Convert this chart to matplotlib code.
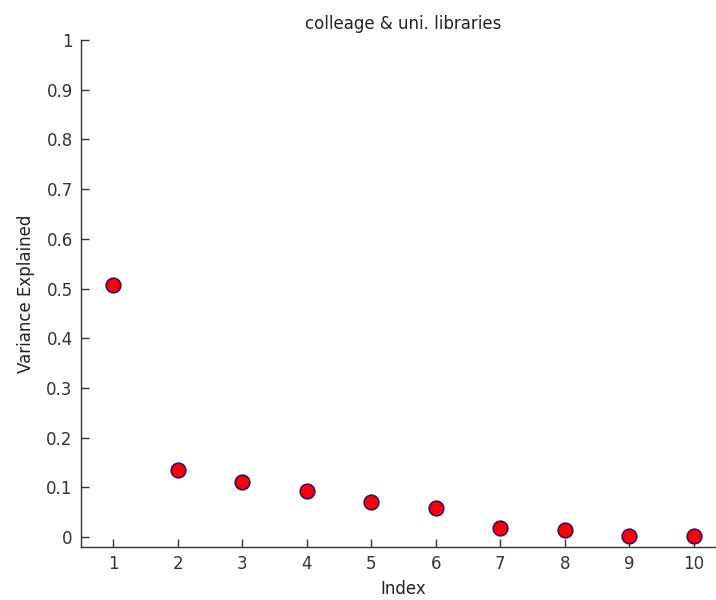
import matplotlib
matplotlib.use("Agg")
import matplotlib.pyplot as plt

index = [1, 2, 3, 4, 5, 6, 7, 8, 9, 10]
variance = [0.508, 0.134, 0.111, 0.093, 0.070, 0.058, 0.018, 0.015, 0.003, 0.003]
yticks = [0, 0.1, 0.2, 0.3, 0.4, 0.5, 0.6, 0.7, 0.8, 0.9, 1]
ytick_labels = ["0", "0.1", "0.2", "0.3", "0.4", "0.5", "0.6", "0.7", "0.8", "0.9", "1"]

plt.rcParams['font.family'] = ['DejaVu Sans']

fig = plt.figure(figsize=(7.16, 6.0), dpi=100)
ax = fig.add_axes([81/716, 1 - 547/600, 645/716, (547 - 40)/600])

ax.plot(index, variance, linestyle='none', marker='o', markersize=10.5,
        markerfacecolor='#ff0000', markeredgecolor='#3a0a5e', markeredgewidth=1.2,
        clip_on=False, zorder=3)

ax.set_xlim(0.5, 10.5)
ax.set_ylim(-0.02, 1)
ax.set_xticks(index)
ax.set_xticklabels([str(i) for i in index])
ax.set_yticks(yticks)
ax.set_yticklabels(ytick_labels)

for s in ['top', 'right']:
    ax.spines[s].set_visible(False)
for s in ['left', 'bottom']:
    ax.spines[s].set_color('#333333')
    ax.spines[s].set_linewidth(1.0)

ax.tick_params(direction='in', length=6, width=1, colors='#333333',
               labelsize=12, labelcolor='#333333', pad=6)

ax.set_title('colleage & uni. libraries', fontsize=12, color='#222222', pad=8)
ax.set_xlabel('Index', fontsize=12, color='#222222', labelpad=5)
ax.set_ylabel('Variance Explained', fontsize=12, color='#222222', labelpad=8)

fig.savefig('out.png', dpi=100)
